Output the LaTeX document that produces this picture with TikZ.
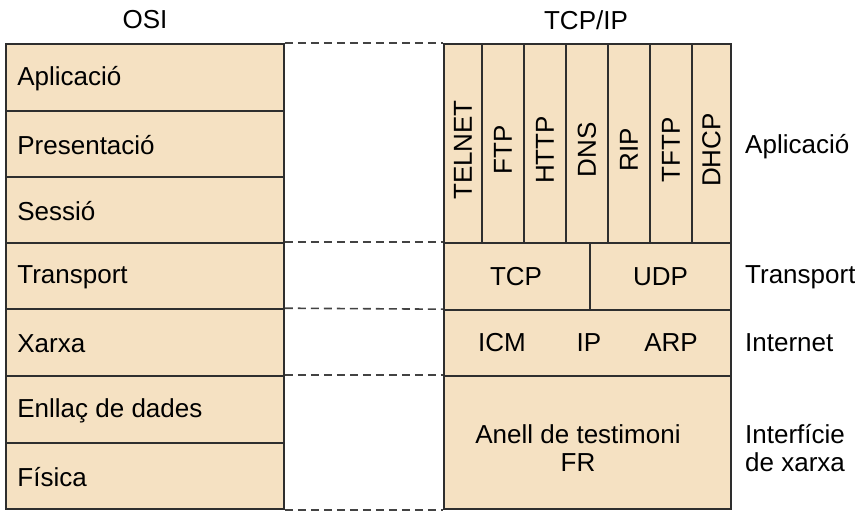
\documentclass[tikz,border=0pt]{standalone}
\usepackage{fontspec}
\setmainfont{Liberation Sans}
\usetikzlibrary{fit}
\definecolor{cellfill}{HTML}{F5E1C2}
\definecolor{rule}{HTML}{2E2E2E}
\tikzset{
  cell/.style={draw=rule, line width=1.6pt, fill=cellfill, inner sep=0pt},
  txt/.style={inner sep=0pt, font=\fontsize{26}{28.5}\selectfont},
  vtxt/.style={txt, rotate=90},
  dashline/.style={draw=rule!90, line width=1.6pt, dash pattern=on 8pt off 5pt},
}
% \cellbox{name}{x1}{y1}{x2}{y2}
\newcommand\cellbox[5]{\node[cell, fit={(#2,#3) (#4,#5)}] (#1) {};}
\begin{document}
\begin{tikzpicture}[x=1pt, y=-1pt]
  \useasboundingbox (0,0) rectangle (855,511);

  % headings
  \node[txt] (hosi) at (145,20) {OSI};
  \node[txt] (htcp) at (586,20) {TCP/IP};

  % OSI stack
  \cellbox{oapp}{6}{44}{284}{111}
  \cellbox{opres}{6}{111}{284}{177}
  \cellbox{oses}{6}{177}{284}{243}
  \cellbox{otra}{6}{243}{284}{309}
  \cellbox{oxar}{6}{309}{284}{376}
  \cellbox{oenl}{6}{376}{284}{443}
  \cellbox{ofis}{6}{443}{284}{509}
  \foreach \n/\t in {oapp/Aplicació, opres/Presentació, oses/Sessió,
                     otra/Transport, oxar/Xarxa, oenl/Enllaç de dades, ofis/Física}
    \node[txt, anchor=west] (\n-t) at ([xshift=12pt, yshift=-1pt]\n.west) {\t};

  % TCP/IP application protocols
  \cellbox{ptel}{444}{44}{482}{243}
  \cellbox{pftp}{482}{44}{524}{243}
  \cellbox{phtt}{524}{44}{566}{243}
  \cellbox{pdns}{566}{44}{608}{243}
  \cellbox{prip}{608}{44}{650}{243}
  \cellbox{ptft}{650}{44}{692}{243}
  \cellbox{pdhc}{692}{44}{731}{243}
  \foreach \n/\t in {ptel/TELNET, pftp/FTP, phtt/HTTP, pdns/DNS,
                     prip/RIP, ptft/TFTP, pdhc/DHCP}
    \node[vtxt] (\n-t) at ([yshift=-6.5pt]\n.center) {\t};

  % transport, internet and network interface
  \cellbox{ptcp}{444}{243}{590}{310}
  \cellbox{pudp}{590}{243}{731}{310}
  \cellbox{pint}{444}{310}{731}{376}
  \cellbox{pnet}{444}{376}{731}{509}
  \node[txt] (ptcp-t) at ([xshift=-1pt]ptcp.center) {TCP};
  \node[txt] (pudp-t) at (pudp.center) {UDP};
  \node[txt] (picm) at (502,343) {ICM};
  \node[txt] (pip)  at (589,343) {IP};
  \node[txt] (parp) at (671,343) {ARP};
  \node[txt, align=center] (pnet-t) at (578,448) {Anell de testimoni\\FR};

  % layer names on the right
  \node[txt, anchor=west] (lapp) at (745,147) {Aplicació};
  \node[txt, anchor=west] (ltra) at (745,277) {Transport};
  \node[txt, anchor=west] (lint) at (745,343) {Internet};
  \node[txt, anchor=west, align=left] (lnet) at (745,448) {Interfície\\de xarxa};

  % dashed correspondences between the two stacks
  \draw[dashline] (oapp.north east) -- (ptel.north west);
  \draw[dashline] (otra.north east) -- (ptcp.north west);
  \draw[dashline] (oxar.north east) -- (pint.north west);
  \draw[dashline] (oenl.north east) -- (pnet.north west);
  \draw[dashline] (ofis.south east) -- (pnet.south west);
\end{tikzpicture}
\end{document}
